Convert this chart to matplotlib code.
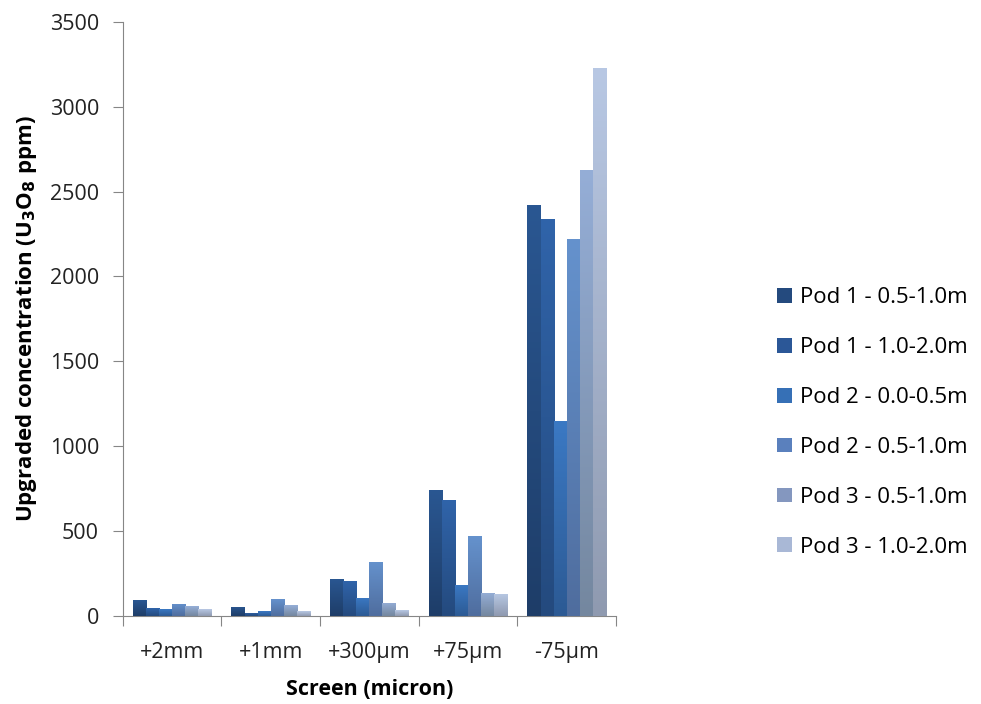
import numpy as np
import matplotlib.pyplot as plt
from matplotlib.colors import LinearSegmentedColormap
from matplotlib.patches import Patch

screens = ["+2mm", "+1mm", "+300µm", "+75µm", "-75µm"]
series_names = ["Pod 1 - 0.5-1.0m", "Pod 1 - 1.0-2.0m", "Pod 2 - 0.0-0.5m",
                "Pod 2 - 0.5-1.0m", "Pod 3 - 0.5-1.0m", "Pod 3 - 1.0-2.0m"]

pod1_05_10 = [92, 55, 220, 745, 2420]
pod1_10_20 = [47, 20, 206, 685, 2340]
pod2_00_05 = [39, 28, 108, 185, 1150]
pod2_05_10 = [73, 100, 320, 470, 2220]
pod3_05_10 = [57, 63, 79, 138, 2628]
pod3_10_20 = [39, 28, 34, 132, 3229]
values = [pod1_05_10, pod1_10_20, pod2_00_05, pod2_05_10, pod3_05_10, pod3_10_20]

# gradient colours: top of bar, bottom of bar, legend swatch
top_cols = ["#2a5792", "#3064aa", "#3b79c4", "#6592cd", "#95aed7", "#b8c8e4"]
bot_cols = ["#1e3d68", "#244a7e", "#2c5a94", "#4f6d9e", "#74879f", "#8f9ab0"]
leg_cols = ["#244a7e", "#2b5797", "#3670b6", "#5a80bd", "#8497bf", "#a9b8d6"]

plt.rcParams['font.family'] = ['Open Sans', 'DejaVu Sans']

fig = plt.figure(figsize=(9.81, 7.04), dpi=100)
ax = fig.add_axes([0.125, 0.125, 0.503, 0.844])

x = np.arange(len(screens))
w = 0.1325
grad = np.linspace(0, 1, 256).reshape(-1, 1)
for i, vals in enumerate(values):
    off = (i - 2.5) * w
    bars = ax.bar(x + off, vals, width=w, color=leg_cols[i], edgecolor='none', zorder=2)
    cmap = LinearSegmentedColormap.from_list("g%d" % i, [bot_cols[i], top_cols[i]])
    for b in bars:
        x0 = b.get_x()
        im = ax.imshow(grad, extent=[x0, x0 + b.get_width(), 0, b.get_height()],
                       origin='lower', aspect='auto', cmap=cmap, zorder=3)
        im.set_clip_path(b)

ax.set_xlim(-0.5, 4.5)
ax.set_ylim(0, 3500)
ax.set_yticks(np.arange(0, 3501, 500))
ax.set_xticks(np.arange(-0.5, 4.6, 1))
ax.set_xticklabels([])
ax.set_xticks(x, minor=True)
ax.set_xticklabels(screens, minor=True)
ax.tick_params(axis='x', which='minor', length=0, pad=19, labelsize=15.5, colors='#222222')
ax.tick_params(axis='x', which='major', length=7, color='#868686')
ax.tick_params(axis='y', length=7, color='#868686', labelsize=15.5, labelcolor='#222222', pad=10)

for s in ['top', 'right']:
    ax.spines[s].set_visible(False)
for s in ['left', 'bottom']:
    ax.spines[s].set_color('#868686')

ax.set_ylabel(r'Upgraded concentration (U$_\mathbf{3}$O$_\mathbf{8}$ ppm)',
              fontsize=16, fontweight='bold', labelpad=8)
ax.set_xlabel('Screen (micron)', fontsize=15.5, fontweight='bold', labelpad=11)

handles = [Patch(facecolor=c, edgecolor='none') for c in leg_cols]
fig.legend(handles, series_names, loc='center left', bbox_to_anchor=(0.772, 0.40),
           frameon=False, fontsize=16, labelspacing=1.3, handlelength=0.65,
           handleheight=0.65, handletextpad=0.35)

fig.savefig("out.png", dpi=100)
